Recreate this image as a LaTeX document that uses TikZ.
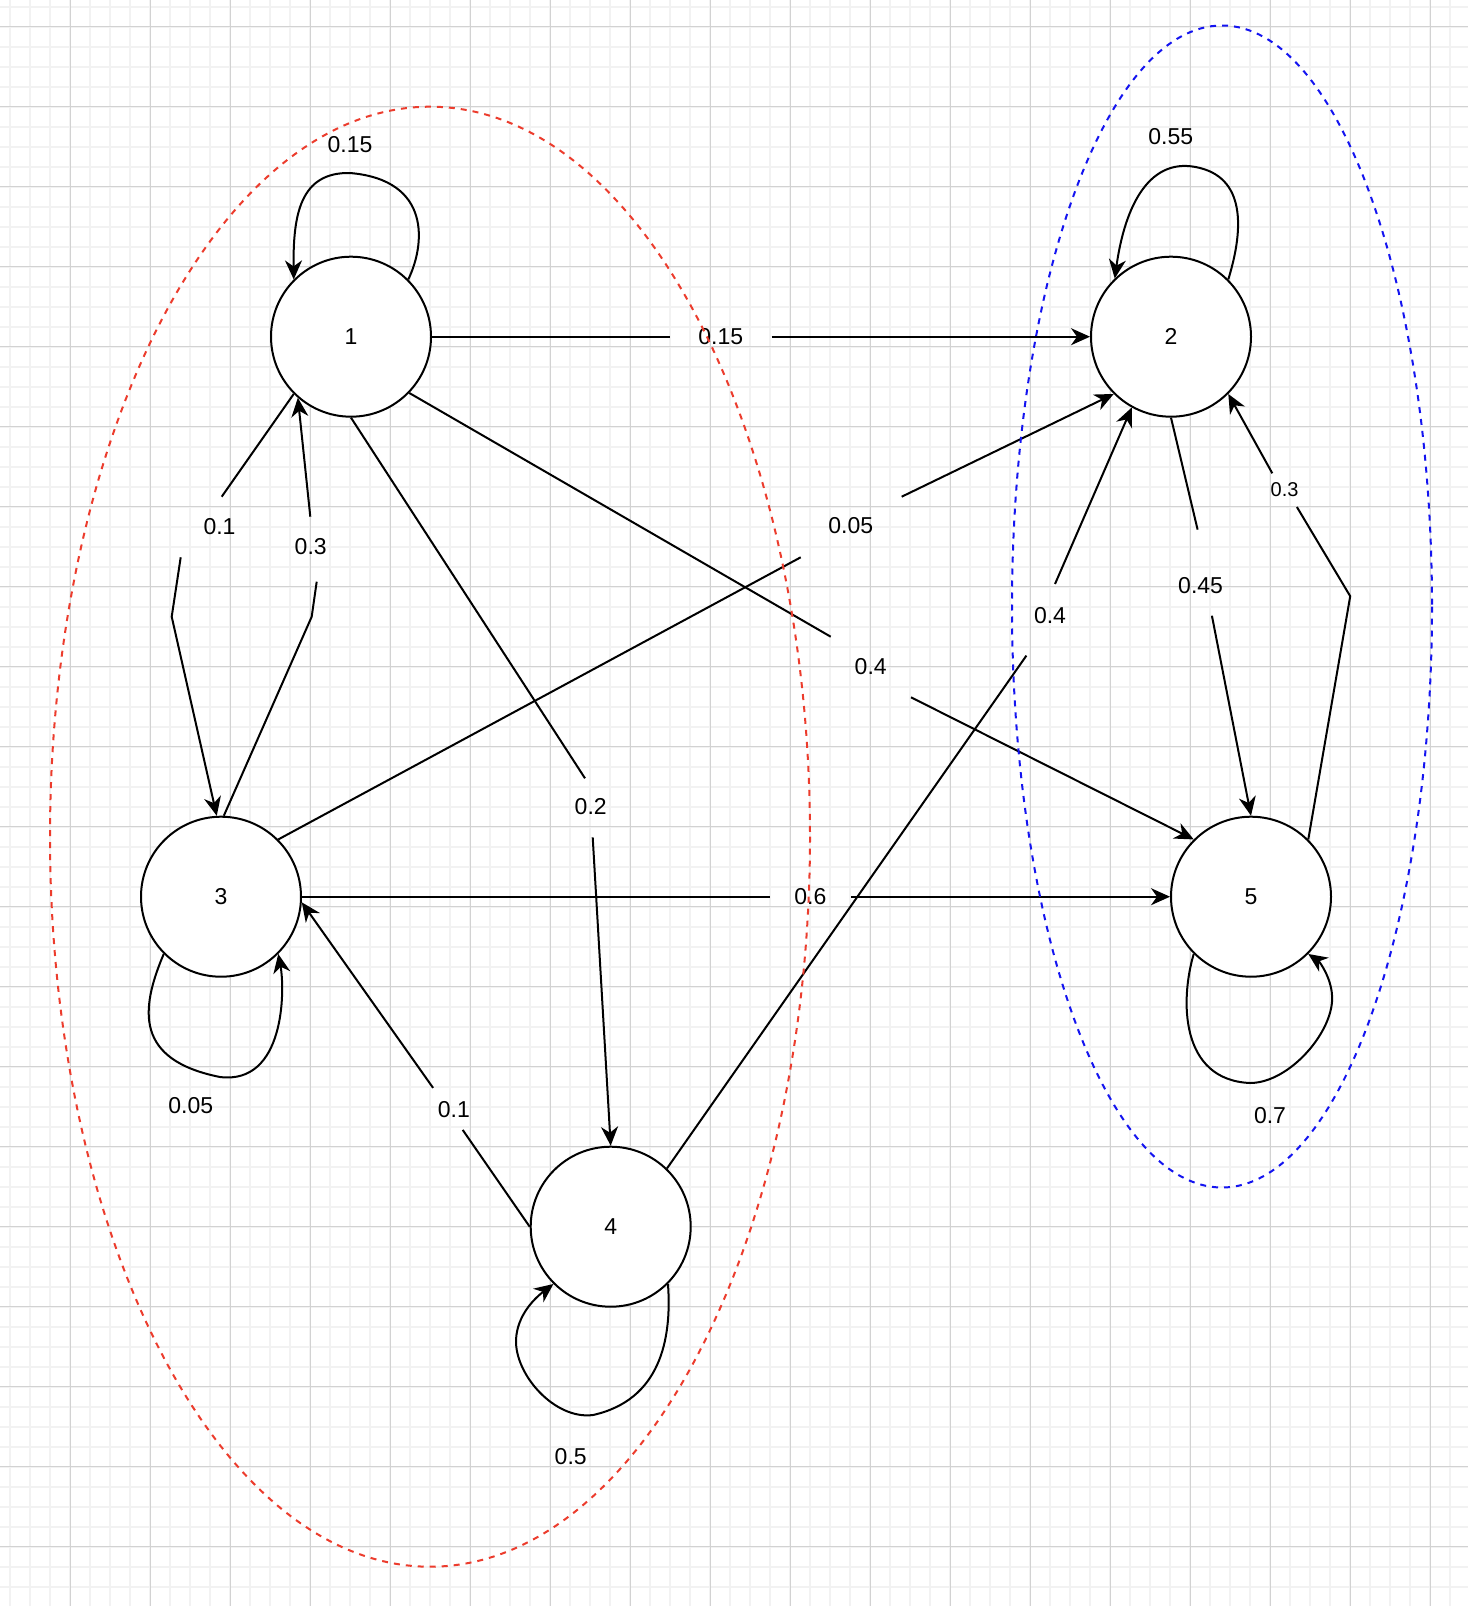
\documentclass[tikz,border=0pt]{standalone}
\usepackage{fontspec}
\setmainfont{Liberation Sans}
\usetikzlibrary{arrows.meta}
\definecolor{gridminor}{RGB}{242,242,242}
\definecolor{gridmajor}{RGB}{210,210,210}
\definecolor{groupred}{RGB}{236,60,45}
\definecolor{groupblue}{RGB}{20,20,240}

\begin{document}
\begin{tikzpicture}[x=1pt,y=-1pt,
  state/.style={circle,draw=black,line width=2pt,fill=white,minimum size=160pt,
    inner sep=0pt,font=\fontsize{23}{27}\selectfont},
  edge/.style={line width=2pt,draw=black},
  arr/.style={edge,-{Stealth[length=19pt,width=17pt,inset=6pt]}},
  prob/.style={font=\fontsize{23}{27}\selectfont,inner sep=0pt},
  smallprob/.style={font=\fontsize{20}{24}\selectfont,inner sep=0pt},
  group/.style={dash pattern=on 6pt off 6pt,line width=2pt}
]
\useasboundingbox (0,0) rectangle (1468,1606);
\fill[white] (0,0) rectangle (1468,1606);

% background grid
\foreach \i in {0,...,72} \draw[gridminor,line width=2pt] ({10+20*\i},0) -- ({10+20*\i},1606);
\foreach \i in {0,...,80} \draw[gridminor,line width=2pt] (0,{6.67+20*\i}) -- (1468,{6.67+20*\i});
\foreach \i in {0,...,17} \draw[gridmajor,line width=1pt] ({70+80*\i},0) -- ({70+80*\i},1606);
\foreach \i in {0,...,19} \draw[gridmajor,line width=1pt] (0,{26.67+80*\i}) -- (1468,{26.67+80*\i});

% states
\node[state] (n1) at (351,336.7) {1};
\node[state] (n2) at (1171,336.7) {2};
\node[state] (n3) at (221,896.7) {3};
\node[state] (n4) at (610.7,1226.7) {4};
\node[state] (n5) at (1251,896.7) {5};

% break points of the transitions around their labels
\coordinate (a12) at (670,336.7);   \coordinate (b12) at (771.7,336.7);
\coordinate (a13) at (221.7,496.7); \coordinate (b13) at (180.7,557.3); \coordinate (w13) at (171.7,616.7);
\coordinate (w31) at (311.7,616.7); \coordinate (a31) at (316.7,581.7); \coordinate (b31) at (310.3,516.7);
\coordinate (a14) at (585,778.3);   \coordinate (b14) at (592.7,837.3);
\coordinate (a15) at (830.7,636.7); \coordinate (b15) at (911,697.3);
\coordinate (a32) at (800.7,557.3); \coordinate (b32) at (901.7,496.7);
\coordinate (a42) at (1026.4,655.6); \coordinate (b42) at (1055,584);
\coordinate (a25) at (1197.6,529.6); \coordinate (b25) at (1211.9,615.7);
\coordinate (w52) at (1350.2,596.2); \coordinate (a52) at (1296.9,507); \coordinate (b52) at (1272.3,473.3);
\coordinate (a35) at (770.3,896.7); \coordinate (b35) at (851.3,896.7);
\coordinate (a43) at (462.7,1129.9); \coordinate (b43) at (433.1,1087.9);

% transitions between states
\draw[edge] (n1.east) -- (a12);  \draw[arr] (b12) -- (n2.west);
\draw[edge] (n1.225) -- (a13);   \draw[arr] (b13) -- (w13) -- (n3.93);
\draw[edge] (n3.88) -- (w31) -- (a31); \draw[arr] (b31) -- (n1.229);
\draw[edge] (n1.south) -- (a14); \draw[arr] (b14) -- (n4.north);
\draw[edge] (n1.-44) -- (a15);   \draw[arr] (b15) -- (n5.135);
\draw[edge] (n3.45) -- (a32);    \draw[arr] (b32) -- (n2.225);
\draw[edge] (n4.46) -- (a42);    \draw[arr] (b42) -- (n2.241);
\draw[edge] (n2.south) -- (a25); \draw[arr] (b25) -- (n5.north);
\draw[edge] (n5.45) -- (w52) -- (a52); \draw[arr] (b52) -- (n2.315);
\draw[edge] (n3.east) -- (a35);  \draw[arr] (b35) -- (n5.west);
\draw[edge] (n4.west) -- (a43);  \draw[arr] (b43) -- (n3.-4);

% self loops
\draw[arr] (n1.45) .. controls (425,245) and (432,180) .. (350,173)
  .. controls (300,172) and (293,215) .. (n1.135);
\draw[arr] (n2.45) .. controls (1242,235) and (1248,180) .. (1200,168)
  .. controls (1150,155) and (1125,205) .. (n2.134);
\draw[arr] (n3.225) .. controls (140,1010) and (135,1060) .. (220,1077)
  .. controls (285,1085) and (285,990) .. (n3.315);
\draw[arr] (n4.315) .. controls (672,1340) and (660,1400) .. (593,1415)
  .. controls (555,1420) and (515,1375) .. (516,1340)
  .. controls (517,1315) and (535,1298) .. (n4.225);
\draw[arr] (n5.225) .. controls (1180,1000) and (1180,1080) .. (1250,1083)
  .. controls (1290,1083) and (1335,1030) .. (1332,995)
  .. controls (1331,978) and (1320,962) .. (n5.315);

% transition probabilities
\node[prob] (p11) at (350,145) {0.15};
\node[prob] (p12) at (720.7,336.7) {0.15};
\node[prob] (p13) at (219.5,526.5) {0.1};
\node[prob] (p31) at (310.7,546.5) {0.3};
\node[prob] (p14) at (590.7,806.7) {0.2};
\node[prob] (p15) at (870.7,666.7) {0.4};
\node[prob] (p32) at (850.7,526) {0.05};
\node[prob] (p42) at (1050,615.7) {0.4};
\node[prob] (p25) at (1200.6,586) {0.45};
\node[smallprob] (p52) at (1284.6,489.7) {0.3};
\node[prob] (p22) at (1170.7,136.7) {0.55};
\node[prob] (p35) at (810.3,896.7) {0.6};
\node[prob] (p43) at (453.8,1109.4) {0.1};
\node[prob] (p33) at (190.7,1106) {0.05};
\node[prob] (p44) at (570.7,1456.7) {0.5};
\node[prob] (p55) at (1270,1116) {0.7};

% groups of states
\draw[group,groupred] (430,836.7) ellipse [x radius=380, y radius=730];
\draw[group,groupblue] (1222,606.5) ellipse [x radius=210, y radius=581];
\end{tikzpicture}
\end{document}
